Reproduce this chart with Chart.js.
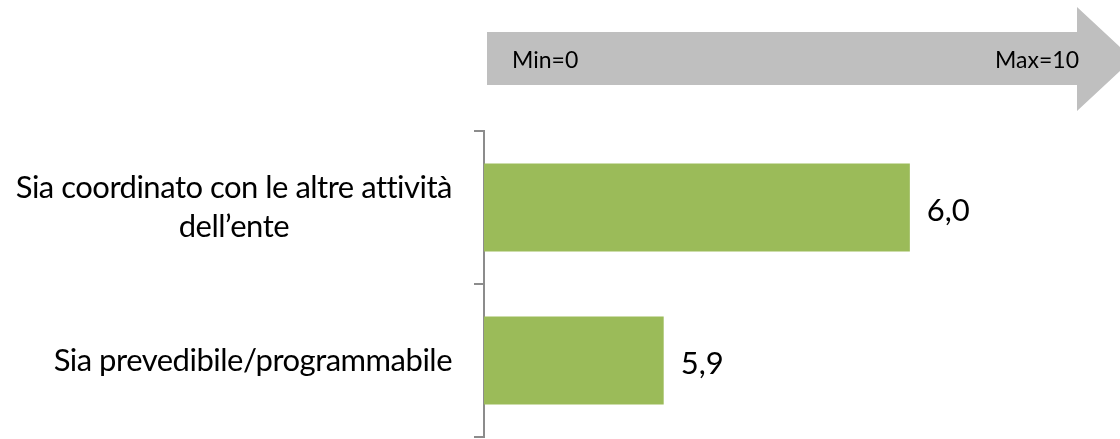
<!DOCTYPE html>
<html lang="it">
<head>
    <meta charset="UTF-8">
    <title>Valutazione</title>
    <script src="https://cdn.jsdelivr.net/npm/chart.js"></script>
    <style>
        html, body { margin: 0; padding: 0; background: #fff; }
        #wrap { width: 1120px; height: 439px; }
    </style>
</head>
<body>
    <div id="wrap">
        <canvas id="chart" width="1120" height="439"></canvas>
    </div>

    <script>
        const categories = [
            ['Sia coordinato con le altre attività', 'dell\u2019ente'],
            ['Sia prevedibile/programmabile']
        ];
        const values = [6.0, 5.9];
        const arrowLabels = ['Min=0', 'Max=10'];

        const labelFont = '31px Lato';
        const barColor = '#9BBB59';

        function fmt(v) {
            return v.toFixed(1).replace('.', ',');
        }

        // grey arrow above the bars
        const arrowPlugin = {
            id: 'arrow',
            beforeDraw(chart) {
                const ctx = chart.ctx;
                const left = chart.chartArea.left + 3;
                ctx.save();
                ctx.fillStyle = '#BFBFBF';
                ctx.beginPath();
                ctx.moveTo(left, 32);
                ctx.lineTo(1077, 32);
                ctx.lineTo(1077, 7);
                ctx.lineTo(1133, 59);
                ctx.lineTo(1077, 111);
                ctx.lineTo(1077, 85);
                ctx.lineTo(left, 85);
                ctx.closePath();
                ctx.fill();
                ctx.fillStyle = '#000';
                ctx.font = '23px Lato';
                ctx.textBaseline = 'alphabetic';
                ctx.textAlign = 'left';
                ctx.fillText(arrowLabels[0], left + 25, 68);
                ctx.textAlign = 'right';
                ctx.fillText(arrowLabels[1], 1079, 68);
                ctx.restore();
            }
        };

        // category labels: lines centred on each other, block right aligned
        const catLabelPlugin = {
            id: 'catLabels',
            afterDraw(chart) {
                const ctx = chart.ctx;
                const yScale = chart.scales.y;
                const right = 452;
                const lineH = 39;
                ctx.save();
                ctx.font = labelFont;
                ctx.letterSpacing = '-0.5px';
                ctx.fillStyle = '#000';
                ctx.textAlign = 'center';
                ctx.textBaseline = 'alphabetic';
                chart.data.labels.forEach((lines, i) => {
                    const widest = Math.max(...lines.map(l => ctx.measureText(l).width));
                    const cx = right - widest / 2;
                    const cy = yScale.getPixelForTick(i);
                    const first = cy + 10 - (lines.length - 1) * lineH / 2;
                    lines.forEach((l, j) => ctx.fillText(l, cx, first + j * lineH));
                });
                ctx.restore();
            }
        };

        const valueLabelPlugin = {
            id: 'valueLabels',
            afterDatasetsDraw(chart) {
                const ctx = chart.ctx;
                const meta = chart.getDatasetMeta(0);
                ctx.save();
                ctx.font = labelFont;
                ctx.fillStyle = '#000';
                ctx.textAlign = 'left';
                ctx.textBaseline = 'middle';
                meta.data.forEach((bar, i) => {
                    ctx.fillText(fmt(values[i]), bar.x + 17, bar.y + 3);
                });
                ctx.restore();
            }
        };

        new Chart(document.getElementById('chart').getContext('2d'), {
            type: 'bar',
            data: {
                labels: categories,
                datasets: [{
                    data: values,
                    backgroundColor: barColor,
                    borderWidth: 0,
                    barPercentage: 0.575,
                    categoryPercentage: 1
                }]
            },
            options: {
                indexAxis: 'y',
                responsive: false,
                animation: false,
                layout: { padding: { top: 131, bottom: 2, left: 0, right: 60 } },
                plugins: {
                    legend: { display: false },
                    tooltip: { enabled: false }
                },
                scales: {
                    x: {
                        display: false,
                        min: 5.827,
                        max: 6.061
                    },
                    y: {
                        afterFit(scale) { scale.width = 484; },
                        ticks: { display: false },
                        grid: {
                            offset: true,
                            drawOnChartArea: false,
                            drawTicks: true,
                            tickLength: 10,
                            color: '#8C8C8C',
                            lineWidth: 2
                        },
                        border: { display: true, color: '#8C8C8C', width: 2 }
                    }
                }
            },
            plugins: [arrowPlugin, catLabelPlugin, valueLabelPlugin]
        });
    </script>
</body>
</html>
